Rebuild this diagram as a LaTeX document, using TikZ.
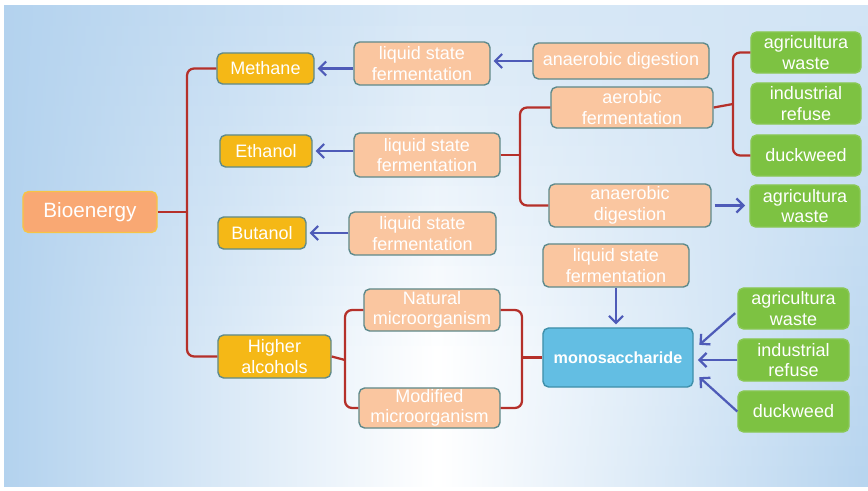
\documentclass[tikz,border=0pt]{standalone}
\usepackage{fontspec}
\setmainfont{Liberation Sans}
\usepackage{xcolor}
\usepackage{tikz}
\usetikzlibrary{arrows.meta}

\definecolor{procfill}{HTML}{FAC6A0}
\definecolor{boxline}{HTML}{5E8A8C}
\definecolor{fuelfill}{HTML}{F5B816}
\definecolor{feedfill}{HTML}{7DC242}
\definecolor{biofill}{HTML}{F9A873}
\definecolor{bioline}{HTML}{F6C445}
\definecolor{monofill}{HTML}{63BEE3}
\definecolor{monoline}{HTML}{3F8FAA}
\definecolor{bracered}{HTML}{B5302A}
\definecolor{arrowblue}{HTML}{4E5BB8}
\definecolor{bgblue}{HTML}{B3D2EE}

\tikzset{
  box/.style={draw=boxline, line width=1pt, rounded corners=4pt, text=white,
    align=center, inner sep=1pt, font=\fontsize{12.8}{14.5}\selectfont},
  fuel/.style={box, fill=fuelfill},
  proc/.style={box, fill=procfill},
  feed/.style={box, fill=feedfill, draw=feedfill!90!white},
  brace/.style={draw=bracered, line width=1.6pt, rounded corners=5pt},
  flow/.style={draw=arrowblue, line width=1.6pt, -{Straight Barb[length=5pt, width=10pt]}}
}

\begin{document}
\begin{tikzpicture}[x=0.025cm, y=-0.025cm]
\useasboundingbox (0,0) rectangle (868,491);
\begin{scope}[x=1cm, y=1cm]
\fill[white] (0,-12.275) rectangle (21.7,0);
\foreach \i in {0,...,23} {
  \pgfmathsetmacro{\mid}{max(0,50-3*\i)}
  \pgfmathsetmacro{\rgt}{60+1.5*\i}
  \shade[left color=bgblue, right color=bgblue!\rgt!white, middle color=bgblue!\mid!white]
    (0.1,{-0.15-0.5*\i-0.52}) rectangle (21.7,{-0.15-0.5*\i});
}
\end{scope}

\node[box, fill=biofill, draw=bioline, minimum width=3.35cm, minimum height=1.025cm,
  font=\fontsize{14.7}{16}\selectfont] (bio) at (90,212) {Bioenergy};

\node[fuel, minimum width=2.425cm, minimum height=0.775cm] (methane) at (265.5,68.5) {Methane};
\node[fuel, minimum width=2.3cm, minimum height=0.8cm] (ethanol) at (266,151) {Ethanol};
\node[fuel, minimum width=2.2cm, minimum height=0.8cm] (butanol) at (262,233) {Butanol};
\node[fuel, minimum width=2.825cm, minimum height=1.075cm] (higher) at (274.5,356.5) {Higher\\alcohols};

\node[proc, minimum width=3.4cm, minimum height=1.075cm] (lsfA) at (422,63.5) {liquid state\\fermentation};
\node[proc, minimum width=3.65cm, minimum height=1.1cm] (lsfB) at (427,155) {liquid state\\fermentation};
\node[proc, minimum width=3.675cm, minimum height=1.075cm] (lsfC) at (422.5,233.5) {liquid state\\fermentation};
\node[proc, minimum width=3.4cm, minimum height=1.05cm] (natural) at (432,310) {Natural\\microorganism};
\node[proc, minimum width=3.525cm, minimum height=1cm] (modified) at (429.5,408) {Modified\\microorganism};

\node[proc, minimum width=4.4cm, minimum height=0.9cm] (anaerA) at (621,61) {anaerobic digestion};
\node[proc, minimum width=4.05cm, minimum height=1.025cm] (aerobic) at (632,107.5) {aerobic\\fermentation};
\node[proc, minimum width=4.05cm, minimum height=1.075cm] (anaerB) at (630,205.5) {anaerobic\\digestion};
\node[proc, minimum width=3.65cm, minimum height=1.075cm] (lsfD) at (616,265.5) {liquid state\\fermentation};

\node[box, fill=monofill, draw=monoline, minimum width=3.75cm, minimum height=1.475cm,
  font=\fontsize{11.5}{13}\selectfont\bfseries] (mono) at (618,357.5) {monosaccharide};

\node[feed, minimum width=2.75cm, minimum height=1.025cm] (agriA) at (806,52.5) {agricultura\\waste};
\node[feed, minimum width=2.75cm, minimum height=1.025cm] (indA) at (806,103.5) {industrial\\refuse};
\node[feed, minimum width=2.75cm, minimum height=1.025cm] (duckA) at (806,155.5) {duckweed};
\node[feed, minimum width=2.75cm, minimum height=1.05cm] (agriB) at (805,206) {agricultura\\waste};
\node[feed, minimum width=2.775cm, minimum height=1.025cm] (agriC) at (793.5,308.5) {agricultura\\waste};
\node[feed, minimum width=2.775cm, minimum height=1.05cm] (indC) at (793.5,360) {industrial\\refuse};
\node[feed, minimum width=2.775cm, minimum height=1.025cm] (duckC) at (793.5,411.5) {duckweed};

\draw[brace] (methane.west) -| (187,212) |- (higher.west);
\draw[brace] (bio.east) -- (187,212);
\draw[brace] (aerobic.west) -| (520,155) |- (anaerB.west);
\draw[brace] (lsfB.east) -- (520,155);
\draw[brace] (agriA.west) -| (733,104) |- (duckA.west);
\draw[brace] (aerobic.east) -- (733,104);
\draw[brace] (natural.west) -| (345,360) |- (modified.west);
\draw[brace] (higher.east) -- (345,360);
\draw[brace] (natural.east) -| (522,357.5) |- (modified.east);
\draw[brace] (522,357.5) -- (mono.west);

\draw[flow] (anaerA.west) -- ([xshift=2pt]anaerA.west -| lsfA.east);
\draw[flow] (methane.east -| lsfA.west) -- ([xshift=2pt]methane.east);
\draw[flow] (ethanol.east -| lsfB.west) -- ([xshift=2pt]ethanol.east);
\draw[flow] (butanol.east -| lsfC.west) -- ([xshift=2pt]butanol.east);
\draw[flow] ([xshift=2pt]anaerB.east) -- ([xshift=-3pt]anaerB.east -| agriB.west);
\draw[flow] (lsfD.south) -- ([yshift=2pt]lsfD.south |- mono.north);
\draw[flow, shorten <=2pt] ([yshift=-2pt]agriC.west) -- ([xshift=4pt, yshift=9pt]mono.east);
\draw[flow] (indC.west) -- ([xshift=3pt]indC.west -| mono.east);
\draw[flow] (duckC.west) -- ([xshift=4pt, yshift=-14pt]mono.east);
\end{tikzpicture}
\end{document}
